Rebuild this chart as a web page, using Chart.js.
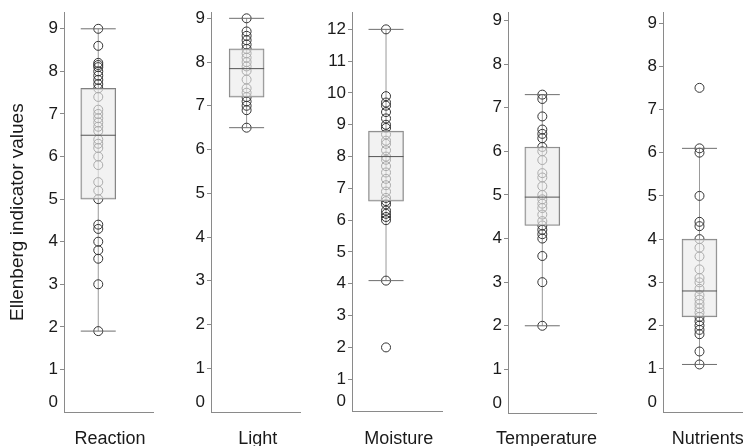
<!DOCTYPE html>
<html>
<head>
<meta charset="utf-8">
<script src="https://cdn.jsdelivr.net/npm/chart.js@4.4.0/dist/chart.umd.min.js"></script>
<style>
  html, body { margin: 0; padding: 0; background: #fff; overflow: hidden; }
  #wrap { position: relative; width: 743px; height: 446px; overflow: hidden; }
  #wrap canvas { position: absolute; top: 0; }
</style>
</head>
<body>
<div id="wrap"></div>
<script>
  // values
  const categories = ['Reaction', 'Light', 'Moisture', 'Temperature', 'Nutrients'];

  const reactionValues = [9.0, 8.6, 8.2, 8.15, 8.1, 8.0, 7.9, 7.8, 7.7, 7.6, 7.4, 7.1, 7.0, 6.9, 6.8, 6.7, 6.6,
    6.4, 6.3, 6.2, 6.0, 5.8, 5.4, 5.2, 5.0, 4.4, 4.3, 4.0, 3.8, 3.6, 3.0, 1.9];
  const lightValues = [9.0, 8.7, 8.6, 8.5, 8.4, 8.3, 8.2, 8.1, 8.0, 7.9, 7.8, 7.6, 7.4, 7.3, 7.2, 7.1, 7.0, 6.9, 6.5];
  const moistureValues = [12.0, 9.9, 9.7, 9.6, 9.4, 9.2, 9.0, 8.9, 8.7, 8.5, 8.4, 8.2, 8.0, 7.9, 7.7, 7.5, 7.3,
    7.1, 6.9, 6.7, 6.6, 6.5, 6.3, 6.2, 6.1, 6.0, 4.1, 2.0];
  const temperatureValues = [7.3, 7.2, 6.8, 6.5, 6.4, 6.3, 6.1, 6.0, 5.8, 5.5, 5.4, 5.2, 5.0, 4.9, 4.8, 4.7, 4.55,
    4.4, 4.3, 4.2, 4.1, 4.0, 3.6, 3.0, 2.0];
  const nutrientValues = [7.5, 6.1, 6.0, 5.0, 4.4, 4.3, 4.0, 3.8, 3.6, 3.3, 3.1, 3.0, 2.85, 2.7, 2.6, 2.5, 2.4,
    2.3, 2.2, 2.1, 2.0, 1.9, 1.8, 1.4, 1.1];
  const seriesValues = [reactionValues, lightValues, moistureValues, temperatureValues, nutrientValues];

  const q1 = [5.0, 7.2, 6.6, 4.3, 2.2];
  const medians = [6.5, 7.85, 8.0, 4.95, 2.8];
  const q3 = [7.6, 8.3, 8.8, 6.1, 4.0];
  const whiskerLow = [1.9, 6.5, 4.1, 2.0, 1.1];
  const whiskerHigh = [9.0, 9.0, 12.0, 7.3, 6.1];

  const axisMax = [9.39, 9.14, 12.54, 9.19, 9.25];
  const ticksTo9 = [0, 1, 2, 3, 4, 5, 6, 7, 8, 9];
  const ticksTo12 = [0, 1, 2, 3, 4, 5, 6, 7, 8, 9, 10, 11, 12];
  const panelTicks = [ticksTo9, ticksTo9, ticksTo12, ticksTo9, ticksTo9];

  // where each panel's plot area sits on the page (labelAt = category label, 0..1 of the x axis)
  const panelLayout = [
    { left: 64, right: 153, top: 10, bottom: 412, axisWidth: 64, boxAt: 0.385, labelAt: 0.517 },
    { left: 211, right: 300, top: 11, bottom: 412, axisWidth: 40, boxAt: 0.40, labelAt: 0.526 },
    { left: 352, right: 442, top: 10, bottom: 411, axisWidth: 40, boxAt: 0.378, labelAt: 0.52 },
    { left: 508, right: 596, top: 12, bottom: 413, axisWidth: 40, boxAt: 0.39, labelAt: 0.4375 },
    { left: 663, right: 752, top: 9, bottom: 412, axisWidth: 40, boxAt: 0.41, labelAt: 0.502 }
  ];

  const H = 446;
  const LABEL_TOP = 420;
  const EXTRA_RIGHT = 30;
  const BOX_W = 35;
  const AXIS = '#8a8a8a';
  const TEXT = '#1a1a1a';

  Chart.defaults.font.family = '"Liberation Sans", Arial, sans-serif';

  const wrap = document.getElementById('wrap');

  categories.forEach((name, i) => {
    const lay = panelLayout[i];
    const canvasLeft = lay.left - lay.axisWidth;
    const width = lay.right + EXTRA_RIGHT - canvasLeft;

    const canvas = document.createElement('canvas');
    canvas.width = width;
    canvas.height = H;
    canvas.style.left = canvasLeft + 'px';
    canvas.style.width = width + 'px';
    canvas.style.height = H + 'px';
    wrap.appendChild(canvas);

    // the 0 label sits ~10px above the baseline in the original
    const zeroShift = 10 * axisMax[i] / (lay.bottom - lay.top);
    const half = (BOX_W / 2) / (lay.right - lay.left);
    const cx = lay.boxAt;

    new Chart(canvas, {
      type: 'bar',
      data: {
        datasets: [
          {
            type: 'line',
            data: [{ x: cx - half, y: medians[i] }, { x: cx + half, y: medians[i] }],
            borderColor: '#555',
            borderWidth: 1,
            pointRadius: 0,
            order: 0
          },
          {
            type: 'line',
            data: [
              { x: cx - half, y: whiskerHigh[i] }, { x: cx + half, y: whiskerHigh[i] },
              { x: cx, y: null },
              { x: cx - half, y: whiskerLow[i] }, { x: cx + half, y: whiskerLow[i] }
            ],
            spanGaps: false,
            borderColor: '#6e6e6e',
            borderWidth: 1,
            pointRadius: 0,
            order: 1
          },
          {
            type: 'bar',
            data: [{ x: cx, y: [q1[i], q3[i]] }],
            backgroundColor: 'rgba(235,235,235,0.65)',
            borderColor: '#808080',
            borderWidth: 1,
            borderSkipped: false,
            barThickness: BOX_W,
            order: 2
          },
          {
            type: 'scatter',
            data: seriesValues[i].map(v => ({ x: cx, y: v })),
            pointRadius: 4.5,
            pointBorderWidth: 1,
            pointBorderColor: '#333',
            pointBackgroundColor: 'rgba(0,0,0,0)',
            showLine: false,
            order: 3
          },
          {
            type: 'line',
            data: [{ x: cx, y: whiskerLow[i] }, { x: cx, y: whiskerHigh[i] }],
            borderColor: '#999',
            borderWidth: 1,
            pointRadius: 0,
            order: 4
          }
        ]
      },
      options: {
        responsive: false,
        animation: false,
        layout: { padding: { top: lay.top, left: 0, right: EXTRA_RIGHT, bottom: 0 } },
        plugins: {
          legend: { display: false },
          tooltip: { enabled: false }
        },
        scales: {
          x: {
            type: 'linear',
            min: 0,
            max: 1,
            offset: false,
            afterBuildTicks: (s) => { s.ticks = [{ value: lay.labelAt }]; },
            ticks: {
              autoSkip: false,
              maxRotation: 0,
              minRotation: 0,
              padding: LABEL_TOP - lay.bottom,
              color: TEXT,
              font: { size: 18 },
              callback: () => name
            },
            grid: { display: false },
            border: { display: true, color: AXIS },
            afterFit: (s) => { s.height = H - lay.bottom; }
          },
          y: {
            type: 'linear',
            min: 0,
            max: axisMax[i],
            afterBuildTicks: (s) => {
              s.ticks = panelTicks[i].map(v => ({ value: v === 0 ? zeroShift : v }));
            },
            ticks: {
              autoSkip: false,
              color: TEXT,
              padding: 2,
              font: { size: 17 },
              callback: (v) => String(Math.round(v))
            },
            grid: {
              drawOnChartArea: false,
              drawTicks: true,
              tickLength: 4,
              color: AXIS,
              tickColor: (ctx) => (ctx.tick && ctx.tick.value < 0.5 ? 'rgba(0,0,0,0)' : AXIS)
            },
            border: { display: true, color: AXIS },
            title: i === 0 ? {
              display: true,
              text: 'Ellenberg indicator values',
              color: TEXT,
              font: { size: 19, lineHeight: 1 },
              padding: { top: 8, bottom: 0 }
            } : { display: false },
            afterFit: (s) => { s.width = lay.axisWidth; }
          }
        }
      }
    });
  });
</script>
</body>
</html>
